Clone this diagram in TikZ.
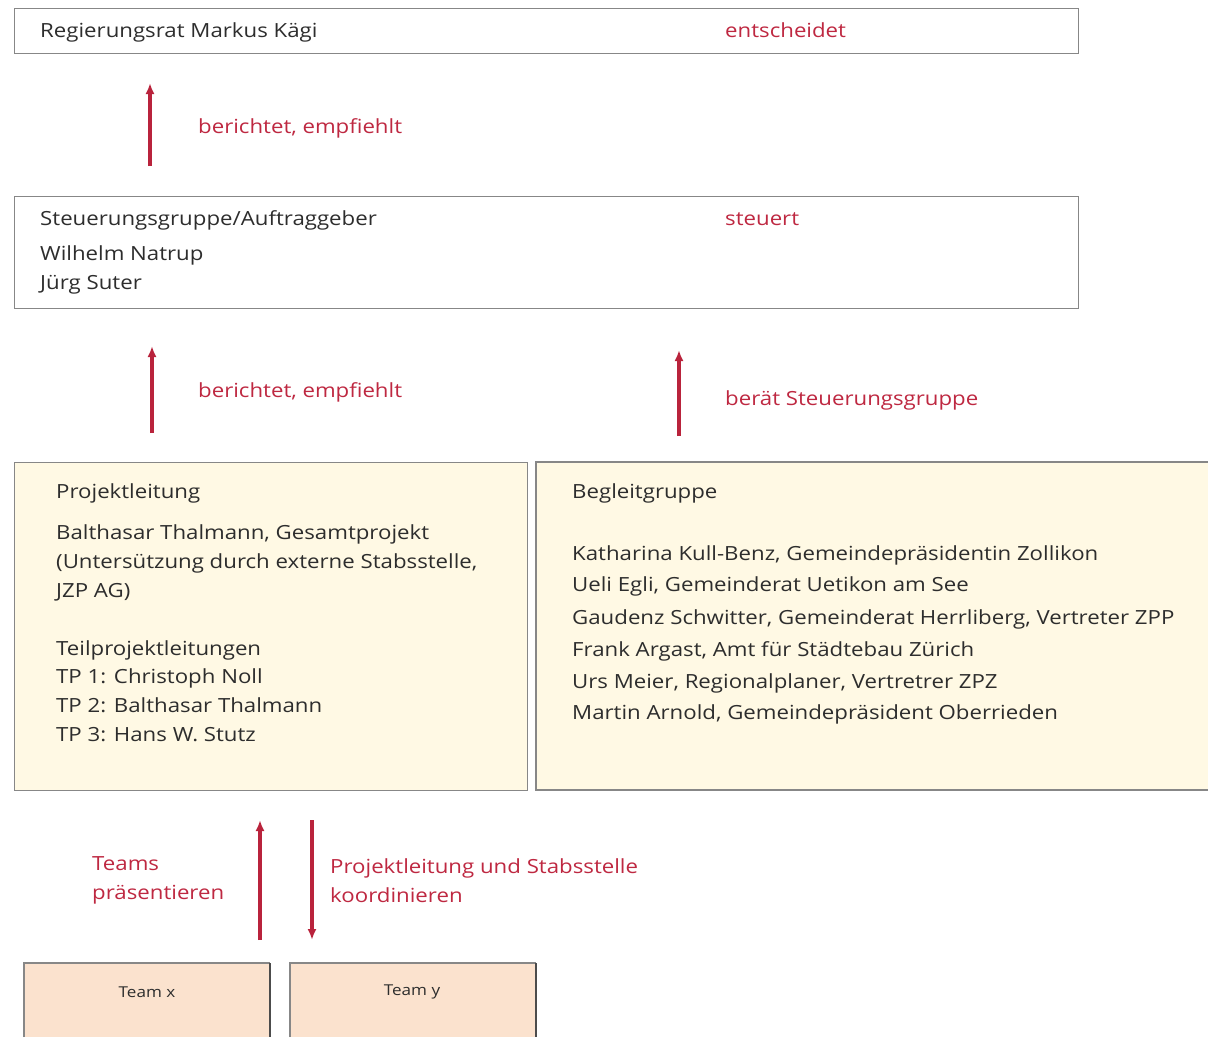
\documentclass[tikz,border=0pt]{standalone}
\usepackage{fontspec}
\setmainfont{Open Sans}[FakeStretch=1.14]
\usetikzlibrary{arrows.meta}
\definecolor{redtxt}{RGB}{190,40,65}
\definecolor{arrowred}{RGB}{185,35,60}
\definecolor{boxline}{RGB}{135,135,135}
\definecolor{cream}{RGB}{255,249,228}
\definecolor{peach}{RGB}{251,226,206}
\definecolor{txt}{RGB}{45,45,45}
\begin{document}
\begin{tikzpicture}[x=1pt,y=-1pt,
  box/.style={draw=boxline, line width=1.2pt, inner sep=0pt, anchor=north west},
  lbl/.style={anchor=base west, inner sep=0pt, font=\fontsize{19.5}{23}\selectfont, text=txt},
  rlbl/.style={lbl, text=redtxt},
  flow/.style={-{Latex[length=11pt,width=9pt]}, line width=3.8pt, draw=arrowred},
  teamlbl/.style={inner sep=0pt, font=\fontsize{15}{18}\selectfont, text=txt}
]
\useasboundingbox (0,0) rectangle (1208,1037);
% top box
\node[box, minimum width=1064pt, minimum height=45pt] (rr) at (14,8) {};
\node[lbl] (rrt) at (40,37) {Regierungsrat Markus Kägi};
\node[rlbl] (rre) at (725,37) {entscheidet};
% arrow 1
\coordinate (a1s) at (150,166);
\coordinate (a1e) at (150,83);
\draw[flow] (a1s) -- (a1e);
\node[rlbl] (a1l) at (198,133) {berichtet, empfiehlt};
% Steuerungsgruppe box
\node[box, minimum width=1064pt, minimum height=112pt] (sg) at (14,196) {};
\node[lbl] (sg1) at (40,225) {Steuerungsgruppe/Auftraggeber};
\node[lbl] (sg2) at (40,260) {Wilhelm Natrup};
\node[lbl] (sg3) at (40,289) {Jürg Suter};
\node[rlbl] (sgr) at (725,225) {steuert};
% arrows 2,3
\coordinate (a2s) at (152,433);
\coordinate (a2e) at (152,346);
\draw[flow] (a2s) -- (a2e);
\node[rlbl] (a2l) at (198,397) {berichtet, empfiehlt};
\coordinate (a3s) at (679,436);
\coordinate (a3e) at (679,350);
\draw[flow] (a3s) -- (a3e);
\node[rlbl] (a3l) at (725,405) {berät Steuerungsgruppe};
% Projektleitung box
\node[box, fill=cream, minimum width=513pt, minimum height=328pt] (pl) at (14,462) {};
\node[lbl] (pl0) at (56,498) {Projektleitung};
\node[lbl] (pl1) at (56,539) {Balthasar Thalmann, Gesamtprojekt};
\node[lbl] (pl2) at (56,568) {(Untersützung durch externe Stabsstelle,};
\node[lbl] (pl3) at (56,597) {JZP AG)};
\node[lbl] (pl4) at (56,655) {Teilprojektleitungen};
\node[lbl] (pl5) at (56,683) {TP 1: Christoph Noll};
\node[lbl] (pl6) at (56,712) {TP 2: Balthasar Thalmann};
\node[lbl] (pl7) at (56,741) {TP 3: Hans W. Stutz};
% Begleitgruppe box
\fill[cream] (536,462) rectangle (1208,790);
\draw[boxline, line width=1.2pt] (1208,462) -- (536,462) -- (536,790) -- (1208,790);
\node[lbl] (bg0) at (572,498) {Begleitgruppe};
\node[lbl] (bg1) at (572,560) {Katharina Kull-Benz, Gemeindepräsidentin Zollikon};
\node[lbl] (bg2) at (572,591) {Ueli Egli, Gemeinderat Uetikon am See};
\node[lbl] (bg3) at (572,624) {Gaudenz Schwitter, Gemeinderat Herrliberg, Vertreter ZPP};
\node[lbl] (bg4) at (572,656) {Frank Argast, Amt für Städtebau Zürich};
\node[lbl] (bg5) at (572,688) {Urs Meier, Regionalplaner, Vertretrer ZPZ};
\node[lbl] (bg6) at (572,719) {Martin Arnold, Gemeindepräsident Oberrieden};
% bottom arrows
\coordinate (a4s) at (260,940);
\coordinate (a4e) at (260,820);
\draw[flow] (a4s) -- (a4e);
\coordinate (a5s) at (312,820);
\coordinate (a5e) at (312,940);
\draw[flow] (a5s) -- (a5e);
\node[rlbl] (a4l1) at (92,870) {Teams};
\node[rlbl] (a4l2) at (92,899) {präsentieren};
\node[rlbl] (a5l1) at (330,873) {Projektleitung und Stabsstelle};
\node[rlbl] (a5l2) at (330,902) {koordinieren};
% team boxes
\fill[peach] (24,963) rectangle (270,1037);
\draw[boxline, line width=1.2pt] (24,1037) -- (24,963) -- (270,963);
\draw[black!70, line width=2.2pt] (270,963) -- (270,1037);
\node[teamlbl] (tx) at (147,992) {Team x};
\fill[peach] (290,963) rectangle (536,1037);
\draw[boxline, line width=1.2pt] (290,1037) -- (290,963) -- (536,963);
\draw[black!70, line width=2.2pt] (536,963) -- (536,1037);
\node[teamlbl] (ty) at (412,992) {Team y};
\end{tikzpicture}
\end{document}
